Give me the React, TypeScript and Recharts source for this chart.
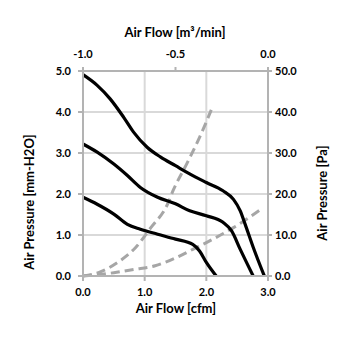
import React from 'react';
import { LineChart, Line, XAxis, YAxis, CartesianGrid } from 'recharts';

// Fan curves (x: Air Flow [cfm], y: Air Pressure [mm-H2O])
const curveHighX = [0, 0.23, 0.44, 0.66, 0.82, 1.04, 1.26, 1.5, 1.73, 2.0, 2.27, 2.44, 2.55, 2.63, 2.76, 2.94];
const curveHighY = [4.91, 4.65, 4.32, 3.87, 3.51, 3.14, 2.9, 2.69, 2.49, 2.28, 2.08, 1.87, 1.59, 1.26, 0.7, 0];

const curveMidX = [0, 0.23, 0.5, 0.72, 0.93, 1.21, 1.5, 1.73, 2.0, 2.27, 2.41, 2.55, 2.76];
const curveMidY = [3.22, 3.02, 2.73, 2.45, 2.16, 1.92, 1.76, 1.59, 1.47, 1.31, 1.1, 0.65, 0];

const curveLowX = [0, 0.23, 0.5, 0.72, 0.93, 1.21, 1.5, 1.78, 1.89, 2.0, 2.16];
const curveLowY = [1.92, 1.75, 1.51, 1.26, 1.14, 1.02, 0.9, 0.77, 0.61, 0.33, 0];

// System impedance curves (dashed)
const impSteepX = [0, 0.28, 0.6, 0.85, 1.1, 1.37, 1.46, 1.68, 1.89, 2.11];
const impSteepY = [0, 0.1, 0.37, 0.69, 1.18, 1.75, 2.08, 2.73, 3.38, 4.16];

const impShallowX = [0, 0.5, 0.82, 1.17, 1.5, 1.78, 2.11, 2.44, 2.87];
const impShallowY = [0, 0.08, 0.16, 0.25, 0.44, 0.65, 0.9, 1.18, 1.61];

// Secondary axes ranges (top: m³/min, right: Pa)
const topAxisRange = [-1, 0];
const rightAxisRange = [0, 50];

const bottomTicks = [0, 1, 2, 3];
const topTicks = [-1, -0.5, 0];
const leftTicks = [0, 1, 2, 3, 4, 5];
const rightTicks = [0, 10, 20, 30, 40, 50];

const toPts = (xs: number[], ys: number[]) => xs.map((x, i) => ({ x, y: ys[i] }));

const FONT = 'Lato, "Open Sans", sans-serif';
const tickStyle = { fill: '#000', fontSize: 11, fontWeight: 700, fontFamily: FONT };
const AXIS = '#b3b3b3';
const fmt = (v: number) => v.toFixed(1);

const labelBase: React.CSSProperties = {
  position: 'absolute',
  fontFamily: FONT,
  fontWeight: 700,
  fontSize: 13,
  color: '#000',
  whiteSpace: 'nowrap',
  lineHeight: '14px',
};

export default function App() {
  return (
    <div style={{ position: 'relative', width: 355, height: 355 }}>
      <LineChart
        width={355}
        height={355}
        margin={{ top: 33, right: 45, bottom: 57, left: 25 }}
      >
        <CartesianGrid
          xAxisId="bottom"
          yAxisId="left"
          stroke="#d9d9d9"
          strokeWidth={2}
        />
        <XAxis
          xAxisId="bottom"
          dataKey="x"
          type="number"
          domain={[0, 3]}
          ticks={bottomTicks}
          tickFormatter={fmt}
          stroke={AXIS}
          strokeWidth={2}
          tick={tickStyle}
          tickSize={5}
          tickMargin={7}
          height={30}
          allowDuplicatedCategory={false}
        />
        <XAxis
          xAxisId="top"
          orientation="top"
          dataKey="x"
          type="number"
          domain={[-1, 0]}
          ticks={topTicks}
          tickFormatter={fmt}
          stroke={AXIS}
          strokeWidth={2}
          tick={tickStyle}
          tickSize={4}
          tickMargin={9}
          height={30}
          allowDuplicatedCategory={false}
        />
        <YAxis
          yAxisId="left"
          type="number"
          domain={[0, 5]}
          ticks={leftTicks}
          tickFormatter={fmt}
          stroke={AXIS}
          strokeWidth={2}
          tick={tickStyle}
          tickSize={5}
          tickMargin={7}
          width={50}
        />
        <YAxis
          yAxisId="right"
          orientation="right"
          type="number"
          domain={[0, 50]}
          ticks={rightTicks}
          tickFormatter={fmt}
          stroke={AXIS}
          strokeWidth={2}
          tick={tickStyle}
          tickSize={4}
          tickMargin={3}
          width={50}
        />
        <Line xAxisId="top" yAxisId="right" data={toPts(topAxisRange, rightAxisRange)} dataKey="y" stroke="none" dot={false} activeDot={false} legendType="none" isAnimationActive={false} />
        <Line xAxisId="bottom" yAxisId="left" data={toPts(impSteepX, impSteepY)} dataKey="y" type="monotone" stroke="#a6a6a6" strokeWidth={3} strokeDasharray="9 5" dot={false} isAnimationActive={false} />
        <Line xAxisId="bottom" yAxisId="left" data={toPts(impShallowX, impShallowY)} dataKey="y" type="monotone" stroke="#a6a6a6" strokeWidth={3} strokeDasharray="9 5" dot={false} isAnimationActive={false} />
        <Line xAxisId="bottom" yAxisId="left" data={toPts(curveHighX, curveHighY)} dataKey="y" type="monotone" stroke="#000" strokeWidth={3.2} dot={false} isAnimationActive={false} />
        <Line xAxisId="bottom" yAxisId="left" data={toPts(curveMidX, curveMidY)} dataKey="y" type="monotone" stroke="#000" strokeWidth={3.2} dot={false} isAnimationActive={false} />
        <Line xAxisId="bottom" yAxisId="left" data={toPts(curveLowX, curveLowY)} dataKey="y" type="monotone" stroke="#000" strokeWidth={3.2} dot={false} isAnimationActive={false} />
      </LineChart>
      <div style={{ ...labelBase, left: 167, top: 24, transform: 'translate(-50%, -50%)' }}>
        Air Flow [m³/min]
      </div>
      <div style={{ ...labelBase, left: 168, top: 300, transform: 'translate(-50%, -50%)' }}>
        Air Flow [cfm]
      </div>
      <div style={{ ...labelBase, left: 21, top: 194, transform: 'translate(-50%, -50%) rotate(-90deg)' }}>
        Air Pressure [mm-H2O]
      </div>
      <div style={{ ...labelBase, left: 314, top: 185, transform: 'translate(-50%, -50%) rotate(-90deg)' }}>
        Air Pressure [Pa]
      </div>
    </div>
  );
}
